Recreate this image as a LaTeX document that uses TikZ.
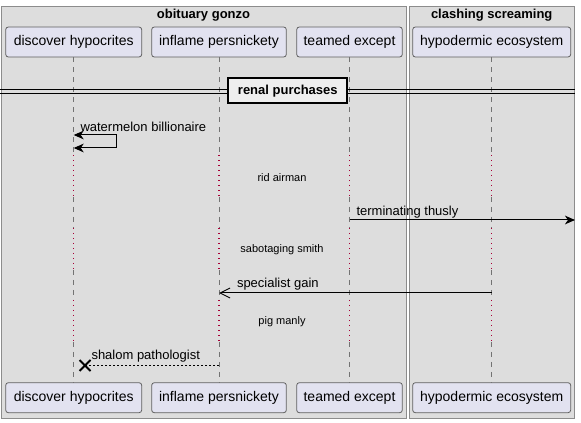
\documentclass[tikz,border=0pt]{standalone}
\usepackage{fontspec}
\setmainfont{Liberation Sans}
\usetikzlibrary{arrows.meta}

\tikzset{every picture/.style={line width=0.75pt}}
\tikzset{
  groupbox/.style={draw={rgb, 255:red, 140; green, 140; blue, 140 }, fill={rgb, 255:red, 221; green, 221; blue, 221 }, line width=0.75pt},
  grouptitle/.style={font=\bfseries\fontsize{9.75}{11}\selectfont, inner sep=0pt},
  participant/.style={draw={rgb, 255:red, 95; green, 95; blue, 95 }, fill={rgb, 255:red, 226; green, 226; blue, 240 }, rounded corners=2pt, minimum height=22.5pt, inner sep=0pt, line width=0.6pt, font=\fontsize{10.5}{12}\selectfont},
  lifeline/.style={draw={rgb, 255:red, 115; green, 115; blue, 115 }, dash pattern=on 3.75pt off 3.75pt, line width=0.6pt},
  delayline/.style={draw={rgb, 255:red, 168; green, 0; blue, 54 }, dash pattern=on 0.75pt off 3pt, line width=0.8pt},
  divbox/.style={draw, fill={rgb, 255:red, 238; green, 238; blue, 238 }, line width=1.5pt, minimum width=89.25pt, minimum height=18.75pt, inner sep=0pt, font=\bfseries\fontsize{9.75}{11}\selectfont},
  msg/.style={line width=0.75pt, >={Stealth[length=7.5pt,width=6.5pt,inset=2.2pt]}},
  msglabel/.style={anchor=west, inner sep=0pt, font=\fontsize{9.75}{11}\selectfont},
  delaylabel/.style={inner sep=0pt, font=\fontsize{8.25}{10}\selectfont}
}

\begin{document}
\begin{tikzpicture}[x=0.75pt,y=0.75pt,yscale=-1]

\useasboundingbox (0,0) rectangle (581,423);

\draw [groupbox] (1,6.5) rectangle (406.5,418.5);
\draw [groupbox] (409,6.5) rectangle (574.5,418.5);
\draw (203.5,15.5) node (gObit) [grouptitle] {obituary gonzo};
\draw (491.7,15.5) node (gClash) [grouptitle] {clashing screaming};

\draw (73.7,42) node (dTop) [participant, minimum width=102pt] {discover hypocrites};
\draw (219,42) node (iTop) [participant, minimum width=101pt] {inflame persnickety};
\draw (349.5,42) node (tTop) [participant, minimum width=79.2pt] {teamed except};
\draw (491.7,42) node (hTop) [participant, minimum width=118.5pt] {hypodermic ecosystem};

\draw (73.7,397.7) node (dBot) [participant, minimum width=102pt] {discover hypocrites};
\draw (219,397.7) node (iBot) [participant, minimum width=101pt] {inflame persnickety};
\draw (349.5,397.7) node (tBot) [participant, minimum width=79.2pt] {teamed except};
\draw (491.7,397.7) node (hBot) [participant, minimum width=118.5pt] {hypodermic ecosystem};

\foreach \p/\q in {dTop/dBot,iTop/iBot,tTop/tBot,hTop/hBot} {
  \draw [lifeline] (\p.south) -- (\p |- 0,155) (\p |- 0,197) -- (\p |- 0,228) (\p |- 0,270) -- (\p |- 0,300) (\p |- 0,342) -- (\q.north);
  \draw [delayline] (\p |- 0,155) -- (\p |- 0,197) (\p |- 0,228) -- (\p |- 0,270) (\p |- 0,300) -- (\p |- 0,342);
}

\draw (0,89.5) -- (575,89.5);
\draw (0,94) -- (575,94);
\draw (287.8,90.8) node (sep) [divbox] {renal purchases};

\coordinate (wStart) at (dTop |- 0,135);
\coordinate (wEnd) at (dTop |- 0,148);
\draw [msg, <->] (wStart) -- ++(42.7,0) |- (wEnd);
\draw (80,127) node (wLbl) [msglabel] {watermelon billionaire};

\draw (282,178) node (dRid) [delaylabel] {rid airman};

\coordinate (tFrom) at (tTop |- 0,220);
\coordinate (rEdge) at (575,220);
\draw [msg, ->] (tFrom) -- (rEdge);
\draw (356,212) node (tLbl) [msglabel] {terminating thusly};

\draw (282,250) node (dSab) [delaylabel] {sabotaging smith};

\coordinate (hFrom) at (hTop |- 0,293);
\coordinate (iTo) at (iTop |- 0,293);
\draw [msg, -{Straight Barb[length=7.5pt,width=7.5pt]}] (hFrom) -- (iTo);
\draw (236.5,284) node (sLbl) [msglabel] {specialist gain};

\draw (282,322) node (dPig) [delaylabel] {pig manly};

\coordinate (iFrom) at (iTop |- 0,365.5);
\coordinate (xEnd) at (85,365.5);
\draw [msg, dash pattern=on 1.5pt off 1.5pt] (iFrom) -- (xEnd);
\draw [line width=1.5pt] (xEnd) +(-5.5,-5.5) -- +(5.5,5.5) (xEnd) +(-5.5,5.5) -- +(5.5,-5.5);
\draw (91,356) node (pLbl) [msglabel] {shalom pathologist};

\end{tikzpicture}
\end{document}
